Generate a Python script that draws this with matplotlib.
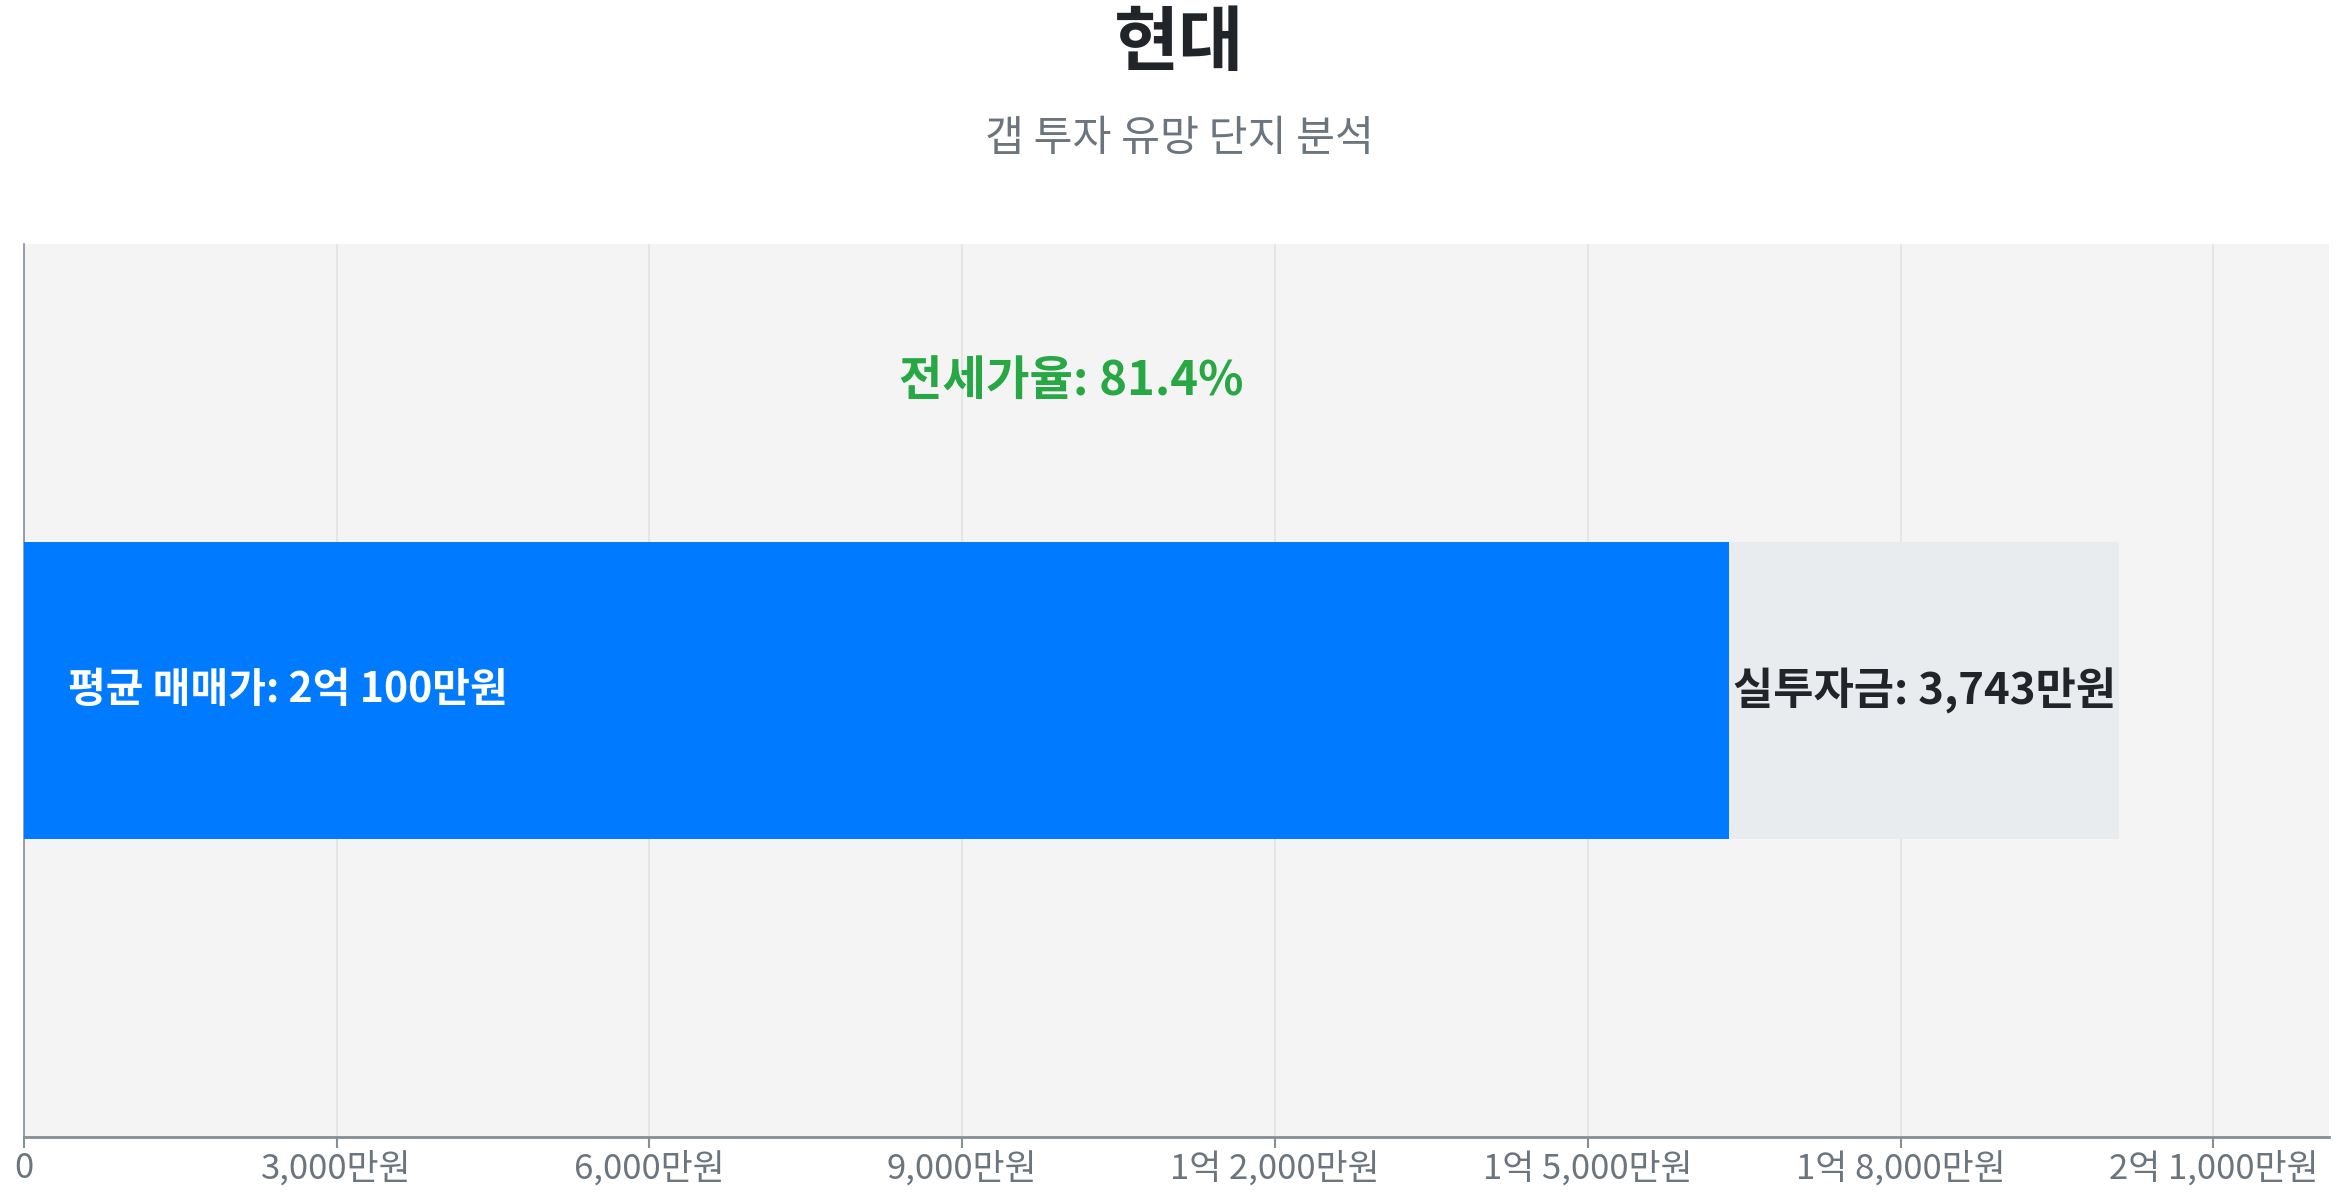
import matplotlib
matplotlib.use('Agg')
import matplotlib.pyplot as plt
from matplotlib.ticker import FuncFormatter, MultipleLocator

plt.rcParams['font.family'] = ['Noto Sans CJK KR', 'DejaVu Sans']

title = '현대'
subtitle = '갭 투자 유망 단지 분석'

# 단위: 만원
avg_price = 20100
real_invest = 3743
jeonse = avg_price - real_invest
jeonse_ratio = 81.4

BLUE = '#007bff'
GRAY_BAR = '#e9ecef'
BG = '#f4f4f4'
GREEN = '#28a745'
DARK = '#212529'
MUTED = '#6c757d'


def won(v, pos=None):
    v = int(round(v))
    if v == 0:
        return '0'
    eok, man = divmod(v, 10000)
    parts = []
    if eok:
        parts.append(f'{eok}억')
    if man:
        parts.append(f'{man:,}만원')
    elif eok:
        parts[-1] += '원'
    return ' '.join(parts)


fig = plt.figure(figsize=(23.45, 12), dpi=100)
ax = fig.add_axes([0.0102, 0.0525, 0.983, 0.7442])
ax.set_facecolor(BG)

ax.barh(0, jeonse, height=1, color=BLUE, zorder=3)
ax.barh(0, real_invest, left=jeonse, height=1, color=GRAY_BAR, zorder=3)

ax.set_xlim(0, avg_price * 1.1)
ax.set_ylim(-1.5, 1.5)
ax.xaxis.set_major_locator(MultipleLocator(3000))
ax.xaxis.set_major_formatter(FuncFormatter(won))
ax.set_yticks([])
ax.grid(axis='x', color='#e3e3e3', linewidth=1.2, zorder=0)

for s in ['top', 'right']:
    ax.spines[s].set_visible(False)
ax.spines['left'].set_color('#868e96')
ax.spines['left'].set_linewidth(1.2)
ax.spines['bottom'].set_color('#868e96')
ax.spines['bottom'].set_linewidth(2)
ax.tick_params(axis='x', colors='#868e96', labelcolor=MUTED,
               labelsize=25, length=8, width=1.5, pad=2)

ax.annotate(f'평균 매매가: {won(avg_price)}', xy=(0, 0), xytext=(32, 0),
            textcoords='offset points', ha='left', va='center',
            fontsize=29.5, fontweight='bold', color='white', zorder=4)
ax.text(jeonse + real_invest / 2, 0, f'실투자금: {won(real_invest)}',
        ha='center', va='center', fontsize=31.5, fontweight='bold',
        color=DARK, zorder=4)
ax.text(avg_price / 2, 1.04, f'전세가율: {jeonse_ratio}%',
        ha='center', va='center', fontsize=34, fontweight='bold',
        color=GREEN, zorder=4)

fig.text(0.503, 1 - 44 / 1200, title, ha='center', va='center',
         fontsize=51, fontweight='bold', color=DARK)
fig.text(0.503, 1 - 139 / 1200, subtitle, ha='center', va='center',
         fontsize=30.5, color=MUTED)

fig.savefig('out.png', dpi=100, facecolor='white')
